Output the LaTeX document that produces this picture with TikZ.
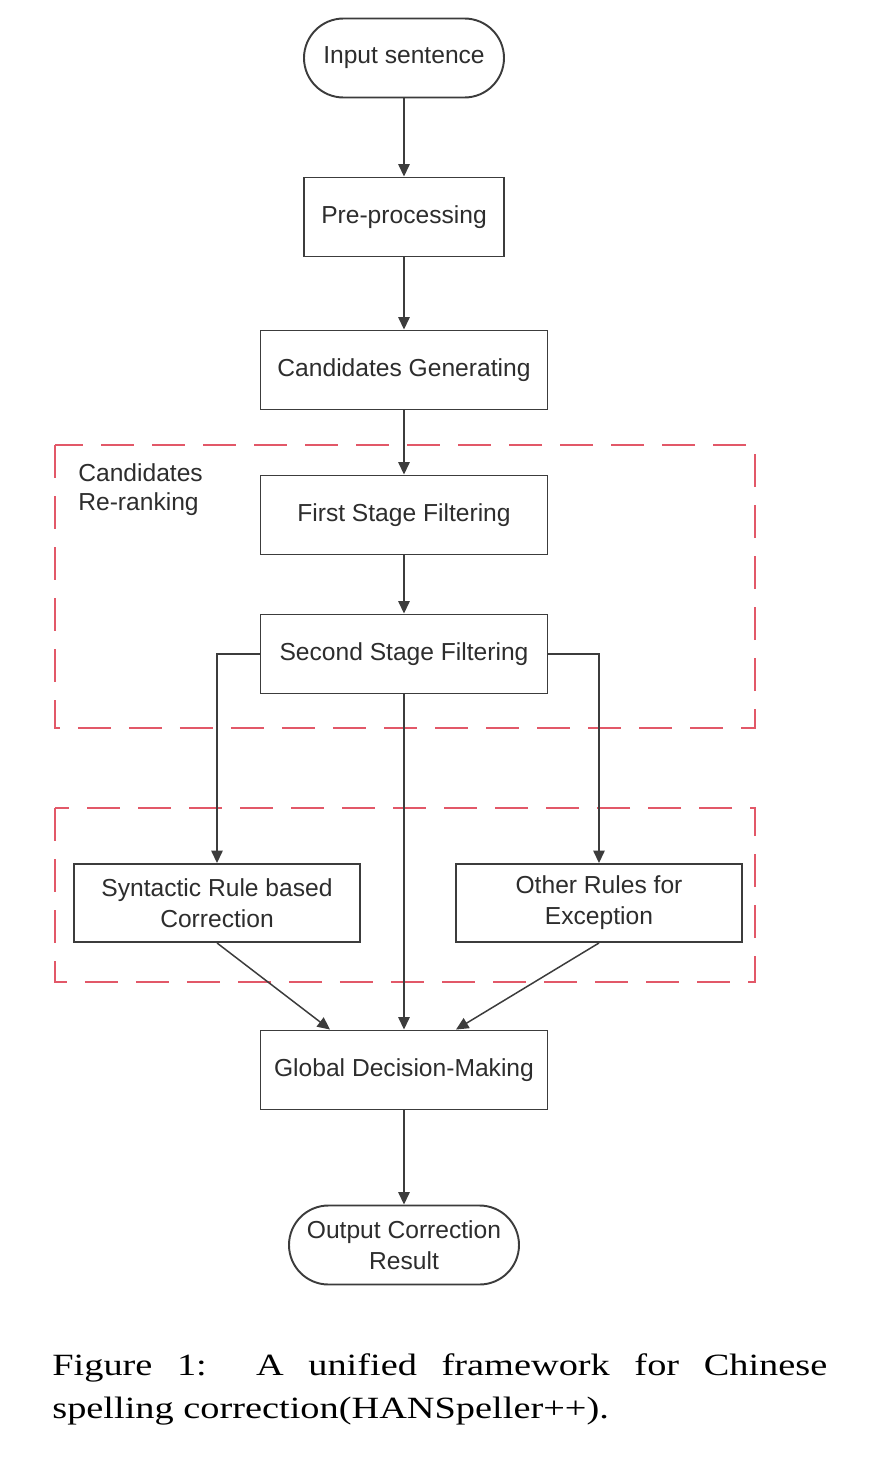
\documentclass[tikz,border=0pt]{standalone}
\usepackage{fontspec}
\setmainfont{Liberation Sans}
\newfontfamily\capfont[FakeStretch=1.24]{Liberation Serif}
\usepackage{tikz}
\usetikzlibrary{arrows.meta,positioning,calc}
\definecolor{boxgray}{RGB}{60,60,60}
\definecolor{txtgray}{RGB}{45,45,45}
\definecolor{dashred}{RGB}{226,88,104}
\tikzset{
  proc/.style={draw=boxgray, line width=1.1pt, fill=white,
    minimum height=15.8mm, minimum width=57.4mm, align=center, inner sep=1mm,
    text=txtgray, font=\fontsize{14}{17.5}\selectfont},
  term/.style={proc, rounded corners=7.9mm, minimum width=40mm},
  lbl/.style={align=left, inner sep=0pt, text=txtgray,
    font=\fontsize{14}{16.5}\selectfont},
  grp/.style={draw=dashred, line width=0.9pt, dash pattern=on 6.6mm off 3.6mm},
  flow/.style={-{Triangle[length=2.5mm,width=2.3mm]}, line width=0.85pt, draw=boxgray}
}
\begin{document}
\begin{tikzpicture}
  \useasboundingbox (-8.08,1.16) rectangle (9.30,-28.08);

  % main column
  \node[term] (inp) at (0,0) {Input sentence};
  \node[proc, minimum width=40mm] (pre) at (0,-3.18) {Pre-processing};
  \node[proc] (gen) at (0,-6.24) {Candidates Generating};
  \node[proc] (first) at (0,-9.14) {First Stage Filtering};
  \node[proc] (second) at (0,-11.92) {Second Stage Filtering};
  \node[proc] (global) at (0,-20.24) {Global Decision-Making};
  \node[term, minimum width=46mm] (out) at (0,-23.74)
    {Output Correction\\Result};

  % rule based branches
  \node[proc, minimum width=57.2mm, minimum height=15.6mm] (syn) at (-3.74,-16.9)
    {Syntactic Rule based\\Correction};
  \node[proc, minimum width=57.2mm, minimum height=15.6mm] (oth) at (3.90,-16.9)
    {Other Rules for\\Exception};

  % dashed groups
  \draw[grp] (-6.98,-7.74) rectangle (7.02,-13.40);
  \draw[grp] (-6.98,-15.00) rectangle (7.02,-18.48);
  \node[lbl, anchor=north west] (rerank) at (-6.52,-8.10) {Candidates\\Re-ranking};

  \coordinate (gin1) at ($(global.north)+(-1.48,0)$);
  \coordinate (gin2) at ($(global.north)+(1.04,0)$);

  \draw[flow] (inp) -- (pre);
  \draw[flow] (pre) -- (gen);
  \draw[flow] (gen) -- (first);
  \draw[flow] (first) -- (second);
  \draw[flow] (second.west) -| (syn.north);
  \draw[flow] (second.east) -| (oth.north);
  \draw[flow] (second) -- (global);
  \draw[flow] (syn.south) -- (gin1);
  \draw[flow] (oth.south) -- (gin2);
  \draw[flow] (global) -- (out);

  % caption
  \node[anchor=north west, inner sep=0pt, text width=15.5cm, align=justify,
    font=\capfont\fontsize{17.6}{24.5}\selectfont] (cap) at (-7.04,-25.90)
    {Figure 1:\ \ A unified framework for Chinese\linebreak
     spelling correction(HANSpeller++).};
\end{tikzpicture}
\end{document}
